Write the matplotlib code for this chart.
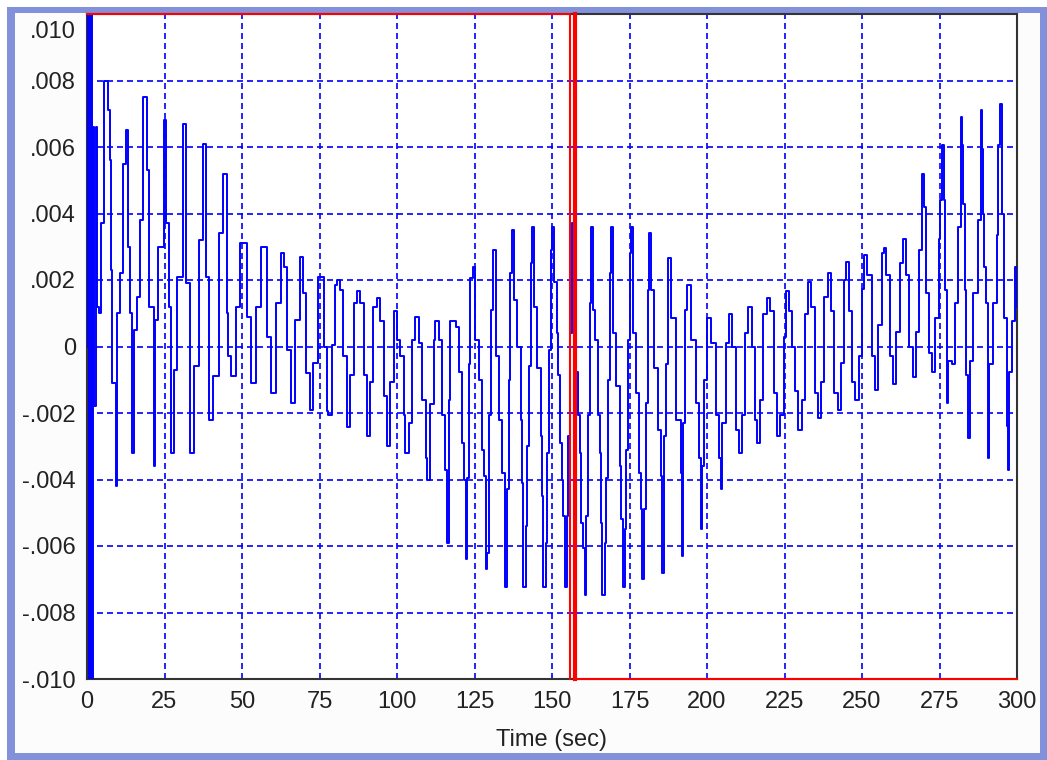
import matplotlib
matplotlib.use("Agg")
import matplotlib.pyplot as plt
from matplotlib.patches import Rectangle
from matplotlib.transforms import ScaledTranslation
import numpy as np

# signal readings, values in units of 1e-3
t_a = [0, 0.25, 0.5, 0.75, 1.0, 1.25, 1.5, 1.8, 2.3, 2.8, 3.3, 3.9,
       4.5, 5.6, 6.8, 7.3, 7.7, 8.2, 9.2, 9.7, 10.8, 11.5, 12.6, 13.2, 14.0, 14.5,
       15.0, 16.0, 17.0, 18.2, 19.3, 20.0, 21.5, 22.0, 23.0, 24.7, 25.6, 26.3,
       27.0, 28.0, 29.0, 31.0, 32.0, 33.2, 34.5, 36.0, 37.5, 38.5, 39.2, 40.5,
       42.5, 44.0, 45.0, 45.5, 46.5, 48.0, 49.5, 50.5, 51.5, 52.8, 54.5, 56.0,
       57.0, 58.0, 59.2, 61.0, 62.5, 63.5, 64.5, 65.7, 67.0, 68.8, 69.8, 70.8,
       72.0, 73.0, 74.5]
v_a = [0, 11, -11, 11, -11, 11, -11, 6.6, -1.8, 6.6, 1.2, 1.0,
       3.7, 8.0, 7.1, 5.6, 2.3, -1.1, -4.2, 1.0, 2.2, 5.5, 6.5, 3.0, 1.0, -3.2,
       0.5, 1.5, 3.8, 7.5, 5.3, 1.2, -3.6, 0.8, 3.0, 6.8, 3.7, 1.2,
       -3.2, -0.7, 2.1, 6.7, 1.9, -3.2, -0.6, 3.2, 6.1, 2.1, -2.2, -0.9,
       3.4, 5.2, 1.0, -0.3, -0.9, 1.2, 3.1, 3.1, 0.9, -1.1, 1.2, 3.0,
       3.0, 0.3, -1.4, 1.3, 2.8, 2.4, -0.1, -1.7, 0.8, 2.7, 1.6, -0.8,
       -1.9, -0.5, 2.1]

t_b = [75.2, 76.3, 77.4, 77.9, 79.0, 80.1, 80.6, 81.7, 82.7, 83.8, 84.9, 86.0,
       87.1, 88.1, 89.2, 90.3, 91.4, 92.4, 93.5, 94.6, 95.7, 96.8, 97.8, 99.1,
       100.0, 101.1, 102.2, 102.7, 103.8, 104.8, 105.9, 107.0, 108.1, 109.2,
       109.7, 110.8, 111.9, 112.4, 113.5, 114.5, 115.6, 116.2, 116.7, 117.2,
       118.9, 119.9, 121.0, 121.6, 122.1, 122.6, 123.2, 123.7, 124.6, 125.3,
       126.4, 127.5, 128.0, 128.6, 129.1, 129.6, 130.4, 131.0, 131.8, 132.9,
       133.9, 134.8, 135.6, 136.1, 136.6, 137.2, 137.7, 138.8, 139.9, 140.4,
       140.6, 141.5, 142.0, 142.6, 143.1, 143.7, 144.2, 145.3, 146.3, 146.9,
       147.2, 148.0, 148.5, 149.0, 149.6, 150.1, 150.7]
v_b = [2.1, 0.0, -1.95, -2.05, 0.05, 1.84, 2.0, 1.7, -0.3, -2.43, -0.86, 1.3,
       1.68, 1.3, -0.86, -2.7, -1.08, 1.19, 1.46, 0.76, -1.5, -3.0, -1.08, 1.08,
       0.2, -0.3, -2.05, -3.2, -2.3, 0.2, 0.9, 0.1, -1.6, -3.35,
       -4.0, -1.73, 0.2, 0.76, 0.2, -2.05, -3.7, -5.9, -1.6, 0.76,
       0.6, -0.76, -2.9, -4.0, -6.4, -3.95, -0.54, 2.05, 2.4, 0.2,
       -1.0, -3.1, -3.9, -6.7, -6.2, -2.05, 1.1, 2.9, -0.3, -2.2,
       -3.8, -7.24, -4.3, -1.0, 2.2, 3.5, 1.4, 0.0, -2.2, -4.1,
       -7.24, -5.4, -3.0, -0.6, 2.5, 3.6, 1.2, -0.65, -2.7, -4.5,
       -7.24, -5.9, -3.2, -0.1, 2.9, 3.6, 1.95]

t_c = [151.5, 152.0, 152.6, 153.1, 153.6, 154.2, 154.7, 155.2, 155.8, 156.3,
       156.8, 157.4, 157.9, 158.4, 159.0, 159.5, 160.0, 160.6, 161.1, 161.6,
       162.2, 162.7, 163.2, 163.8, 164.9, 165.4, 165.9, 166.2, 167.0, 167.5,
       168.1, 168.6, 169.1, 169.7, 170.7, 171.8, 172.3, 172.9, 173.4, 173.9,
       174.5, 175.0, 175.5, 176.1, 177.1, 178.2, 178.7, 179.1, 179.8, 180.3,
       180.9, 181.4, 181.9, 183.0, 184.1, 185.1, 185.5, 186.2, 186.7, 187.3,
       188.3, 190.0, 191.5, 191.9, 192.3, 192.9, 193.7, 194.8, 196.4, 197.4,
       198.0, 198.5, 199.0, 200.1, 201.2, 202.8, 203.8, 204.4, 204.9, 206.0,
       207.0, 208.1, 209.2, 210.2, 211.3, 212.4, 213.2, 214.5, 215.6, 216.1,
       217.2, 218.2, 219.3, 220.4, 221.5, 222.5, 223.6, 224.7, 225.4, 226.3]
v_c = [0.4, -0.86, -2.9, -4.0, -5.1, -7.24, -5.1, -2.7, 0.4, 3.7,
       3.7, 0.2, -0.76, -2.05, -3.2, -5.3, -6.05, -7.46, -5.1, -2.05,
       1.3, 3.6, 1.1, 0.2, -2.05, -3.2, -5.3, -7.46, -5.9, -3.95,
       -1.0, 2.2, 3.6, 0.4, -1.2, -3.6, -5.2, -7.24, -5.5, -3.1,
       0.2, 2.8, 3.6, 0.4, -1.4, -3.8, -4.9, -7.0, -4.9, -1.7,
       1.7, 3.4, 1.7, -0.65, -2.5, -3.9, -6.8, -2.7, -0.54, 2.65,
       0.86, -2.2, -3.8, -6.3, -2.3, 1.1, 1.84, 0.2, -1.7, -3.35,
       -5.5, -3.6, -1.0, 0.86, 0.1, -2.05, -3.35, -4.3, -2.3, 0.1,
       0.97, 0.0, -2.5, -3.2, -2.05, 0.4, 1.2, 0.0, -2.2, -2.9,
       -1.6, 0.97, 1.46, 1.08, -1.4, -2.7, -2.05, 0.3, 1.68, 1.08]

t_d = [227.3, 228.4, 229.4, 230.5, 231.5, 232.6, 233.6, 234.7, 235.7, 236.8,
       237.9, 238.9, 240.0, 241.0, 242.1, 243.1, 244.2, 244.7, 245.8, 246.8,
       247.9, 248.9, 250.0, 250.5, 251.6, 253.1, 254.2, 255.3, 256.3, 257.1,
       257.9, 259.0, 260.0, 261.1, 262.1, 263.2, 264.2, 265.3, 266.3, 267.4,
       268.4, 269.5, 270.0, 270.6, 271.6, 272.7, 273.7, 274.8, 275.3, 275.8,
       276.4, 276.9, 277.4, 277.9, 279.0, 280.1, 281.1, 282.0, 282.4, 282.7,
       283.2, 283.7, 284.3, 284.8, 285.9, 287.4, 288.3, 288.7, 289.0, 289.5,
       290.1, 290.6, 291.1, 292.2, 293.6, 294.0, 294.6, 295.0, 295.3, 295.9,
       296.9, 297.1, 297.5, 298.5, 299.3, 300.0]
v_d = [0.0, -1.35, -2.5, -1.6, 0.97, 1.95, 1.2, -1.4, -2.16, -1.08,
       1.5, 2.2, 1.08, -1.4, -1.9, -0.5, 2.0, 2.54, 1.08, -1.08,
       -1.6, -0.3, 1.73, 2.76, 2.16, -0.3, -1.3, 0.65, 2.8, 2.97,
       2.16, -0.3, -1.14, 0.43, 2.5, 3.24, 2.16, 0.0, -0.92, 0.43,
       2.9, 5.2, 4.2, 1.6, -0.2, -0.76, 0.86, 3.24, 4.4, 6.05,
       4.4, 1.7, -1.7, -0.43, -0.54, 1.3, 3.6, 6.9, 6.05, 4.3,
       1.7, -0.86, -2.76, -0.43, 1.6, 3.8, 7.1, 5.95, 4.0, 2.4,
       1.3, -3.35, -0.54, 1.3, 3.35, 6.05, 7.3, 6.05, 4.0, 0.86,
       -2.4, -3.7, -0.76, 0.76, 2.4, 1.2]

# red window marker (sec)
window_edge = 155.9
cursor_t = 157.5

xticks = [0, 25, 50, 75, 100, 125, 150, 175, 200, 225, 250, 275, 300]
yticks = [0.010, 0.008, 0.006, 0.004, 0.002, 0, -0.002, -0.004, -0.006, -0.008, -0.010]
ylabels = ['.010', '.008', '.006', '.004', '.002', '0', '-.002', '-.004', '-.006', '-.008', '-.010']

plt.rcParams['font.family'] = ['Liberation Sans', 'DejaVu Sans']

fig = plt.figure(figsize=(10.47, 7.6), dpi=100, facecolor='white')
# window frame
fig.patches.append(Rectangle((7/1047, 0), 1040/1047, 753/760, transform=fig.transFigure,
                             facecolor='#8391db', edgecolor='none', zorder=-10))
fig.patches.append(Rectangle((15/1047, 7/760), 1025/1047, 740/760, transform=fig.transFigure,
                             facecolor='#fcfcfc', edgecolor='none', zorder=-9))

ax = fig.add_axes([87/1047, 81/760, 930/1047, 665/760])
ax.set_facecolor('white')

t = np.array(t_a + t_b + t_c + t_d)
v = np.array(v_a + v_b + v_c + v_d) * 1e-3
ax.plot(t, v, color='#0000ff', lw=1.4, drawstyle='steps-post', zorder=3)

ax.set_xlim(0, 300)
ax.set_ylim(-0.010, 0.010)
ax.set_xticks(xticks)
ax.set_yticks(yticks)
ax.set_yticklabels(ylabels)
ax.grid(True, color='#0000ff', linestyle=(0, (3.6, 2.4)), lw=1.2)
ax.set_axisbelow(True)
ax.tick_params(length=0, labelsize=17, labelcolor='#222222')
ax.tick_params(axis='y', pad=8)
ax.tick_params(axis='x', pad=9)
ax.set_xlabel('Time (sec)', fontsize=17, color='#222222', labelpad=11)

# top label sits inside the frame
top_lab = ax.get_yticklabels()[0]
top_lab.set_transform(top_lab.get_transform() + ScaledTranslation(0, -16/100, fig.dpi_scale_trans))

for s in ax.spines.values():
    s.set_color('#333333')
    s.set_linewidth(1.5)

# red window outline and cursor
ax.plot([0, window_edge, window_edge], [0.010, 0.010, -0.010], color='red', lw=1.5, clip_on=False, zorder=5)
ax.plot([cursor_t, cursor_t, 300], [0.010, -0.010, -0.010], color='red', lw=1.5, clip_on=False, zorder=5)
ax.plot([cursor_t, cursor_t], [0.010, -0.010], color='red', lw=3.0, clip_on=False, zorder=5)

fig.savefig('out.png', dpi=100)
